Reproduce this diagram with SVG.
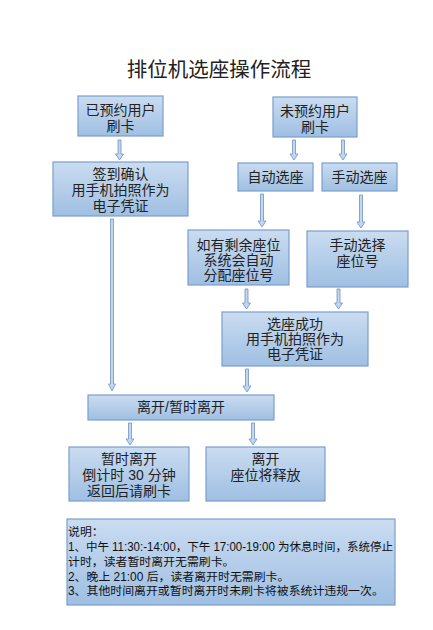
<svg xmlns="http://www.w3.org/2000/svg" width="433" height="630" viewBox="0 0 433 630">
<defs>
<linearGradient id="g" x1="0" y1="0" x2="0" y2="1">
<stop offset="0" stop-color="#cadcf1"/>
<stop offset="1" stop-color="#9fbfe2"/>
</linearGradient>
<style>
.box{fill:url(#g);stroke:#7b9fcb;stroke-width:1.2}
.t{font-family:"Liberation Sans","Noto Sans CJK SC",sans-serif;font-size:14px;fill:#222;text-anchor:middle}
.n{font-family:"Liberation Sans","Noto Sans CJK SC",sans-serif;font-size:11.9px;fill:#111}
.ar{fill:#c3d6ed;stroke:#6d93c4;stroke-width:0.8}
</style>
</defs>
<rect width="433" height="630" fill="#fff"/>
<text x="219" y="77" class="t" style="font-size:20.5px">排位机选座操作流程</text>

<g id="connectors">
<path class="ar" d="M118 140 H121 V154 H123.5 L119.5 160 L115.5 154 H118 Z"/>
<path class="ar" d="M292.5 140 H295.5 V154 H298 L294 160 L290 154 H292.5 Z"/>
<path class="ar" d="M341.5 140 H344.5 V154 H347 L343 160 L339 154 H341.5 Z"/>
<path class="ar" d="M260.5 194 H263.5 V221 H266 L262 227 L258 221 H260.5 Z"/>
<path class="ar" d="M359.5 195 H362.5 V222 H365 L361 228 L357 222 H359.5 Z"/>
<path class="ar" d="M245 289 H248 V303 H250.5 L246.5 309 L242.5 303 H245 Z"/>
<path class="ar" d="M337 289 H340 V303 H342.5 L338.5 309 L334.5 303 H337 Z"/>
<path class="ar" d="M110.5 219 H113.5 V384 H115.5 L112 391 L108.5 384 H110.5 Z"/>
<path class="ar" d="M245.5 369 H248.5 V386 H251 L247 392 L243 386 H245.5 Z"/>
<path class="ar" d="M128.5 423 H131.5 V439 H134 L130 445 L126 439 H128.5 Z"/>
<path class="ar" d="M251.5 423 H254.5 V439 H257 L253 445 L249 439 H251.5 Z"/>
</g>

<g id="n1"><rect class="box" x="78" y="96" width="85" height="40"/>
<text class="t" x="120.5" y="115">已预约用户</text><text class="t" x="120.5" y="131">刷卡</text></g>
<g id="n2"><rect class="box" x="273" y="97" width="84" height="40"/>
<text class="t" x="315" y="116">未预约用户</text><text class="t" x="315" y="132">刷卡</text></g>
<g id="n3"><rect class="box" x="53" y="162" width="135" height="54"/>
<text class="t" x="120.5" y="179">签到确认</text><text class="t" x="120.5" y="195">用手机拍照作为</text><text class="t" x="120.5" y="211">电子凭证</text></g>
<g id="n4"><rect class="box" x="238" y="163" width="75" height="28"/>
<text class="t" x="275.5" y="182">自动选座</text></g>
<g id="n5"><rect class="box" x="322" y="163" width="75" height="28"/>
<text class="t" x="359.5" y="182">手动选座</text></g>
<g id="n6"><rect class="box" x="188" y="230" width="101" height="55"/>
<text class="t" x="238.5" y="250">如有剩余座位</text><text class="t" x="238.5" y="265">系统会自动</text><text class="t" x="238.5" y="280">分配座位号</text></g>
<g id="n7"><rect class="box" x="307" y="231" width="101" height="56"/>
<text class="t" x="357.5" y="250">手动选择</text><text class="t" x="357.5" y="266">座位号</text></g>
<g id="n8"><rect class="box" x="222" y="312" width="146" height="54"/>
<text class="t" x="295" y="329">选座成功</text><text class="t" x="295" y="344">用手机拍照作为</text><text class="t" x="295" y="359">电子凭证</text></g>
<g id="n9"><rect class="box" x="88" y="395" width="186" height="25"/>
<text class="t" x="181" y="412">离开/暂时离开</text></g>
<g id="n10"><rect class="box" x="69" y="447" width="120" height="54"/>
<text class="t" x="129" y="464">暂时离开</text><text class="t" x="129" y="480">倒计时 30 分钟</text><text class="t" x="129" y="496">返回后请刷卡</text></g>
<g id="n11"><rect class="box" x="206" y="447" width="119" height="54"/>
<text class="t" x="265.5" y="464">离开</text><text class="t" x="265.5" y="480">座位将释放</text></g>
<g id="notes"><rect class="box" x="67" y="519" width="328" height="86"/>
<text class="n" x="68" y="536">说明：</text>
<text class="n" x="68" y="551" textLength="325" lengthAdjust="spacingAndGlyphs">1、中午 11:30:-14:00，下午 17:00-19:00 为休息时间，系统停止</text>
<text class="n" x="68" y="566">计时，读者暂时离开无需刷卡。</text>
<text class="n" x="68" y="581">2、晚上 21:00 后，读者离开时无需刷卡。</text>
<text class="n" x="68" y="595">3、其他时间离开或暂时离开时未刷卡将被系统计违规一次。</text></g>
</svg>
